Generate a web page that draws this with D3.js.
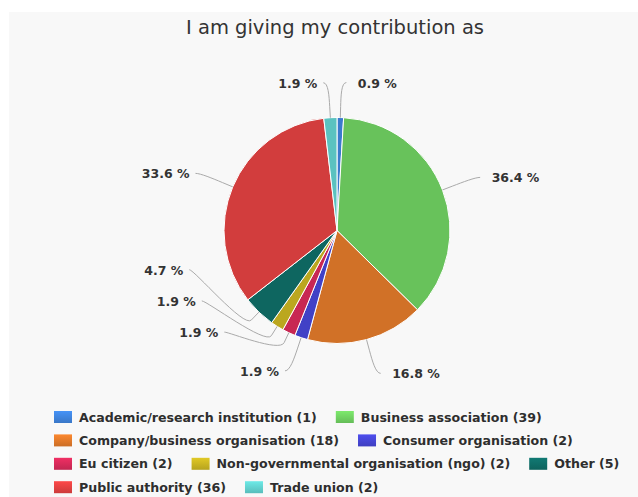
<!DOCTYPE html>
<html>
<head>
<meta charset="utf-8">
<script src="https://cdn.jsdelivr.net/npm/d3@7"></script>
<style>
  html, body { margin: 0; padding: 0; background: #ffffff; }
  svg { display: block; }
</style>
</head>
<body>
<svg id="chart" width="638" height="497"></svg>
<script>
// Respondent types and how many contributions each gave
const categories = [
  "Academic/research institution",
  "Business association",
  "Company/business organisation",
  "Consumer organisation",
  "Eu citizen",
  "Non-governmental organisation (ngo)",
  "Other",
  "Public authority",
  "Trade union"
];
const counts = [1, 39, 18, 2, 2, 2, 5, 36, 2];
const sliceColors = [
  "#3f84de", "#70d262", "#e27a2a", "#4646d6", "#d82a5a",
  "#cab522", "#0f6e68", "#e34242", "#62d2d0"
];
const titleText = "I am giving my contribution as";

const W = 638, H = 497;
const svg = d3.select("#chart");
const fontFamily = "'DejaVu Sans', Verdana, sans-serif";

// chart panel
svg.append("rect").attr("x", 9).attr("y", 12)
  .attr("width", W - 9).attr("height", H - 12)
  .attr("fill", "#f8f8f8");

svg.append("text")
  .attr("x", 335).attr("y", 34)
  .attr("text-anchor", "middle")
  .attr("font-family", fontFamily)
  .attr("font-size", 19.5)
  .attr("fill", "#333")
  .text(titleText);

// pie geometry
const cx = 337, cy = 230.5, r = 113;
const distance = 35;           // label distance outside the rim
const R = r + distance;
const slotH = 31.2;            // vertical room needed per label
const breakOffset = 11;        // connector bend just outside the rim
const padRight = 16.5, padLeft = 11;   // gap between connector end and label text

const total = d3.sum(counts);
const data = categories.map((c, i) => ({ name: c, value: counts[i], color: sliceColors[i], i }));
const arcs = d3.pie().sort(null).value(d => d.value)(data);
const arcGen = d3.arc().innerRadius(0).outerRadius(r);

const defs = svg.append("defs");
arcs.forEach(a => {
  const g = defs.append("radialGradient")
    .attr("id", "grad" + a.data.i)
    .attr("gradientUnits", "userSpaceOnUse")
    .attr("cx", cx).attr("cy", cy - 0.4 * r)
    .attr("r", 1.6 * r);
  g.append("stop").attr("offset", 0).attr("stop-color", d3.color(a.data.color).brighter(0.2));
  g.append("stop").attr("offset", 1).attr("stop-color", d3.color(a.data.color).darker(0.22));
});

const pieG = svg.append("g").attr("transform", `translate(${cx},${cy})`);
pieG.selectAll("path").data(arcs).join("path")
  .attr("d", arcGen)
  .attr("fill", a => `url(#grad${a.data.i})`)
  .attr("stroke", "#ffffff")
  .attr("stroke-width", 1)
  .attr("stroke-linejoin", "round");

// ---- data label placement: slots per half, nearest free slot ----
const pts = arcs.map(a => {
  const ang = (a.startAngle + a.endAngle) / 2;
  const s = Math.sin(ang), c = Math.cos(ang);
  return {
    a, ang,
    left: ang > Math.PI,
    natY: cy - R * c,
    bx: cx + (r + breakOffset) * s, by: cy - (r + breakOffset) * c,
    tx: cx + r * s, ty: cy - r * c,
    label: (a.data.value / total * 100).toFixed(1) + " %"
  };
});

function getX(y, left) {
  const t = Math.max(-1, Math.min(1, (y - cy) / R));
  return cx + (left ? -1 : 1) * Math.cos(Math.asin(t)) * R;
}

[false, true].forEach(left => {
  const half = pts.filter(p => p.left === left).sort((p, q) => p.natY - q.natY);
  const slots = [];
  for (let pos = cy - R; pos <= cy + R; pos += slotH) slots.push(pos);
  const slotY = slots.slice();
  const n = half.length, m = slots.length;
  half.forEach((p, j) => {
    let best = 1e9, si = 0;
    slotY.forEach((sy, k) => { const d = Math.abs(sy - p.natY); if (d < best) { best = d; si = k; } });
    if (si < j) si = j;                       // crowded at the top
    else if (m < n - j + si) si = m - n + j;  // crowded at the bottom
    while (si < m - 1 && slots[si] === null) si++;
    p.si = si;
    slots[si] = null;
  });
  half.forEach(p => {
    let y = slotY[p.si];
    if ((p.natY > y && slots[p.si + 1] !== null) || (p.natY < y && slots[p.si - 1] !== null)) y = p.natY;
    p.y = y;
    p.x = getX(p.si === 0 || p.si === m - 1 ? p.natY : y, left);
  });
});

const labelG = svg.append("g");
labelG.selectAll("path").data(pts).join("path")
  .attr("d", p => {
    const sx = p.x + (p.left ? -5 : 5);
    return `M${sx},${p.y} C${p.x},${p.y} ${2 * p.bx - p.tx},${2 * p.by - p.ty} ${p.bx},${p.by} L${p.tx},${p.ty}`;
  })
  .attr("fill", "none")
  .attr("stroke", "#aaaaaa")
  .attr("stroke-width", 1);

labelG.selectAll("text").data(pts).join("text")
  .attr("x", p => p.x + (p.left ? -padLeft : padRight))
  .attr("y", p => p.y + 5)
  .attr("text-anchor", p => p.left ? "end" : "start")
  .attr("font-family", fontFamily)
  .attr("font-size", 12.5)
  .attr("font-weight", "bold")
  .attr("fill", "#333")
  .text(p => p.label);

// ---- legend: horizontal flow, wrapping rows ----
const legendX = 54, legendTop = 417, rowH = 23.4, maxRight = 636;
const symW = 18, symH = 12, symGap = 7, itemGap = 19;
const legendG = svg.append("g");
let lx = legendX, ly = legendTop;
data.forEach(d => {
  const item = legendG.append("g");
  const t = item.append("text")
    .attr("font-family", fontFamily)
    .attr("font-size", 12.6)
    .attr("font-weight", "bold")
    .attr("fill", "#2e2e2e")
    .text(`${d.name} (${d.value})`);
  const tw = t.node().getComputedTextLength();
  const w = symW + symGap + tw;
  if (lx > legendX && lx + w > maxRight) { lx = legendX; ly += rowH; }
  const lg = defs.append("linearGradient").attr("id", "lg" + d.i)
    .attr("x1", 0).attr("y1", 0).attr("x2", 0).attr("y2", 1);
  lg.append("stop").attr("offset", 0).attr("stop-color", d3.color(d.color).brighter(0.3));
  lg.append("stop").attr("offset", 1).attr("stop-color", d3.color(d.color).darker(0.3));
  item.insert("rect", "text")
    .attr("x", lx).attr("y", ly - symH / 2)
    .attr("width", symW).attr("height", symH)
    .attr("fill", `url(#lg${d.i})`);
  t.attr("x", lx + symW + symGap).attr("y", ly + 4.5);
  lx += w + itemGap;
});
</script>
</body>
</html>
